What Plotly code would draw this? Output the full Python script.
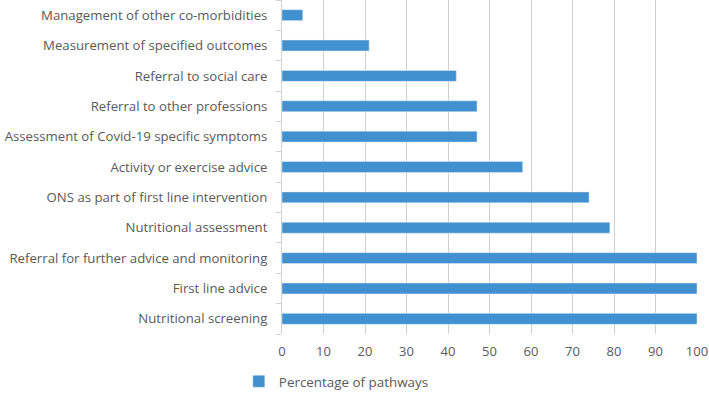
import plotly.graph_objects as go

categories = [
    "Nutritional screening",
    "First line advice",
    "Referral for further advice and monitoring",
    "Nutritional assessment",
    "ONS as part of first line intervention",
    "Activity or exercise advice",
    "Assessment of Covid-19 specific symptoms",
    "Referral to other professions",
    "Referral to social care",
    "Measurement of specified outcomes",
    "Management of other co-morbidities",
]
values = [100, 100, 100, 79, 74, 58, 47, 47, 42, 21, 5]
x_ticks = list(range(0, 101, 10))

fig = go.Figure(go.Bar(
    y=categories, x=values, orientation="h",
    name="Percentage of pathways",
    marker=dict(color="#4190cf"),
    showlegend=True,
))

fig.update_layout(
    width=709, height=397,
    margin=dict(l=282, r=12, t=0, b=63, autoexpand=False),
    plot_bgcolor="white", paper_bgcolor="white",
    font=dict(family="Open Sans, Liberation Sans, sans-serif", size=13.2, color="#595959"),
    bargap=0.64,
    showlegend=True,
    legend=dict(orientation="h", x=-0.104, y=-0.096, xanchor="left", yanchor="top",
                font=dict(size=13.4, color="#595959")),
)
fig.update_xaxes(range=[0, 100], tickvals=x_ticks, showgrid=True, gridcolor="#d0d0d0",
                 gridwidth=1, zeroline=False, showline=False, ticks="", ticklabelstandoff=8,
                 tickfont=dict(size=13), automargin=False, layer="below traces")
fig.update_yaxes(type="category", showgrid=False, showline=True,
                 linecolor="#d0d0d0", ticks="outside", tickson="boundaries", ticklen=5,
                 tickcolor="#d0d0d0", ticklabelstandoff=11, automargin=False)

fig.write_html("out.html", config={"displayModeBar": False},
               post_script="document.body.style.margin='0';")
